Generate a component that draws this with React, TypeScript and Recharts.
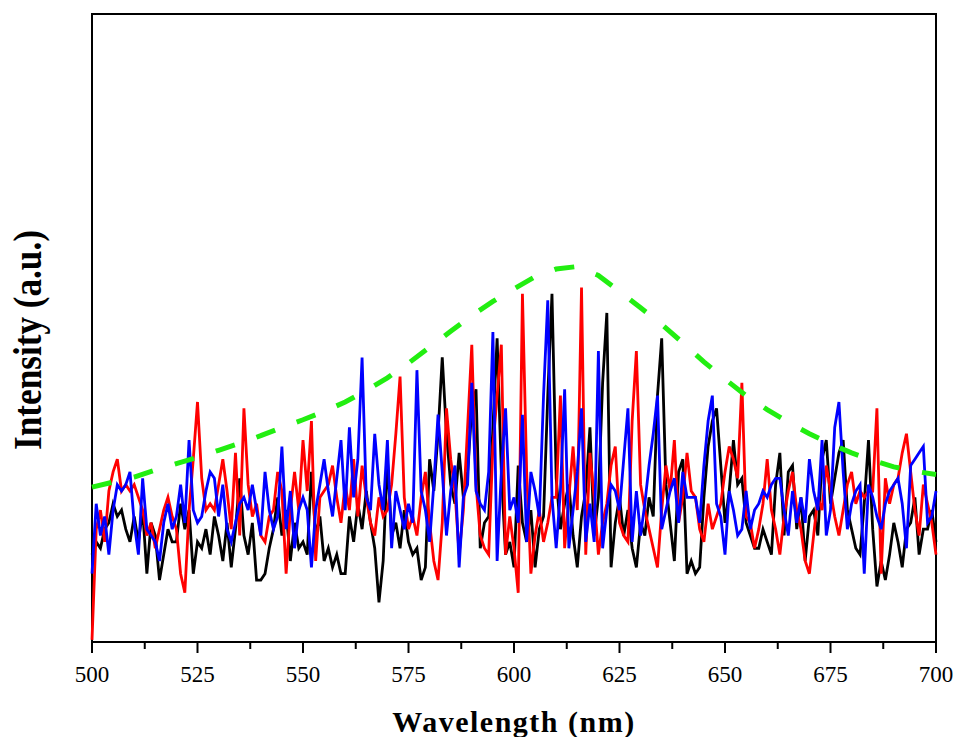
import React from 'react';
import { LineChart, Line, XAxis, YAxis, ReferenceArea } from 'recharts';

// sampled wavelength grid (nm), 1 nm step
const wavelengths: number[] = Array.from({ length: 201 }, (_, i) => 500 + i);

const black: number[] = [
  15, 17, 16, 19, 20, 23, 21, 22, 19, 17,
  21, 17, 22, 12, 20, 18, 11, 15, 19, 17,
  17, 23, 19, 22, 12, 17, 16, 19, 15, 21,
  18, 14, 20, 13, 19, 27, 18, 15, 20, 11,
  11, 12, 16, 19, 24, 18, 22, 14, 20, 16,
  17, 15, 28, 18, 21, 14, 16, 13, 15, 12,
  12, 21, 17, 23, 19, 25, 20, 16, 7.5, 14,
  30, 18, 20, 16, 22, 17, 15, 16, 11, 13,
  30, 25, 34, 46, 34, 26, 23, 31, 24, 28,
  38, 41, 16, 20, 21, 35, 49, 28, 15, 17,
  13, 29, 20, 17, 22, 13, 19, 21, 40, 56,
  27, 19, 23, 26, 18, 13, 21, 25, 35, 18,
  24, 42, 53, 13, 20, 24, 18, 22, 16, 13,
  20, 18, 24, 21, 40, 49, 26, 20, 14, 28,
  30, 12, 14, 12, 13, 24, 32, 36, 38, 29,
  20, 25, 33, 26, 27, 20, 18, 16, 16, 19,
  17, 15, 26, 31, 18, 28, 29, 19, 24, 14,
  21, 22, 18, 30, 33, 23, 27, 31, 33, 22,
  19, 16, 15, 23, 33, 19, 10, 14, 11, 15,
  20, 17, 13, 19, 20, 24, 15, 19, 19, 22, 17,
];

const red: number[] = [
  1.6, 19, 22, 17, 25, 28, 30, 25, 26, 25,
  26, 24, 22, 18, 20, 16, 19, 22, 24, 21,
  19, 12, 9, 22, 30, 39, 27, 22, 23, 22,
  26, 30, 25, 19, 31, 18, 38, 26, 21, 23,
  18, 17, 21, 22, 28, 25, 12, 22, 28, 22,
  33, 25, 36, 14, 24, 25, 26, 29, 24, 20,
  26, 22, 30, 21, 29, 24, 20, 18, 24, 21,
  22, 26, 34, 43, 24, 19, 21, 18, 24, 28,
  20, 14, 11, 20, 38, 30, 25, 15, 22, 35,
  48, 26, 18, 16, 15, 32, 40, 48, 15, 21,
  16, 9, 56, 28, 12, 18, 22, 17, 20, 24,
  24, 40, 16, 24, 32, 22, 57, 15, 31, 24,
  15, 20, 23, 29, 32, 20, 18, 17, 36, 47,
  26, 22, 19, 16, 13, 22, 29, 25, 33, 20,
  24, 31, 25, 24, 19, 17, 23, 19, 21, 23,
  28, 32, 30, 27, 42, 21, 20, 16, 19, 23,
  30, 22, 19, 15, 21, 25, 28, 22, 19, 14,
  12, 18, 24, 22, 29, 25, 21, 18, 22, 26,
  28, 23, 25, 24, 25, 25, 38, 12, 27, 23,
  26, 27, 31, 34, 28, 22, 18, 26, 23, 20, 15,
];

const blue: number[] = [
  12, 23, 18, 21, 15, 22, 26, 25, 26, 28,
  20, 15, 27, 19, 18, 17, 14, 20, 23, 19,
  21, 26, 20, 33, 22, 20, 21, 25, 28, 27,
  21, 26, 19, 17, 20, 23, 24, 22, 26, 22,
  18, 28, 22, 19, 21, 32, 19, 25, 16, 22,
  24, 22, 13, 22, 26, 30, 25, 21, 27, 33,
  22, 35, 24, 30, 46, 24, 22, 34, 26, 22,
  33, 16, 25, 22, 19, 23, 20, 44, 25, 22,
  17, 26, 37, 28, 18, 25, 29, 13, 24, 26,
  42, 25, 23, 22, 28, 50, 14, 28, 38, 22,
  24, 20, 37, 17, 28, 25, 21, 40, 55, 24,
  16, 25, 41, 16, 22, 28, 38, 17, 23, 17,
  47, 16, 22, 26, 25, 22, 30, 38, 17, 25,
  18, 23, 29, 34, 40, 19, 22, 25, 27, 20,
  28, 24, 24, 24, 20, 29, 36, 40, 23, 21,
  15, 25, 22, 18, 19, 25, 19, 22, 23, 25,
  24, 26, 27, 27, 22, 18, 25, 20, 24, 20,
  30, 25, 22, 33, 18, 22, 35, 39, 28, 19,
  23, 25, 26, 12, 26, 24, 21, 19, 23, 25,
  26, 27, 23, 16, 29, 30, 31, 32, 20, 21, 25,
];

const greenWavelengths: number[] = [
  500, 505, 510, 515, 520, 525, 530, 535, 540, 545,
  550, 555, 560, 565, 570, 575, 580, 585, 590, 595,
  600, 605, 610, 615, 620, 625, 630, 635, 640, 645,
  650, 655, 660, 665, 670, 675, 680, 685, 690, 695, 700,
];
const green: number[] = [
  25.6, 26.4, 27.2, 28.3, 29.3, 30.3, 31.4, 32.5, 33.7, 35.0,
  36.2, 37.5, 39.0, 40.8, 42.8, 45.1, 47.6, 50.1, 52.6, 54.8,
  56.8, 58.7, 59.9, 60.3, 58.9, 56.4, 53.8, 51.2, 48.3, 45.3,
  42.6, 40.0, 37.8, 35.8, 34.0, 32.4, 31.0, 29.8, 28.8, 28.1, 27.6,
];

const xTicks: number[] = [
  500, 512.5, 525, 537.5, 550, 562.5, 575, 587.5, 600, 612.5,
  625, 637.5, 650, 662.5, 675, 687.5, 700,
];
const majorStep = 25;
const xDomain: [number, number] = [500, 700];
const yDomain: [number, number] = [1.26, 100];

const rows = wavelengths.map((w, i) => {
  const gi = greenWavelengths.indexOf(w);
  return {
    w,
    black: black[i],
    red: red[i],
    blue: blue[i],
    green: gi >= 0 ? green[gi] : null,
  };
});

const serif = "'Liberation Serif', 'Times New Roman', Times, serif";

const XTick = (props: any) => {
  const { x, y, payload } = props;
  const v = payload.value;
  const major = v % majorStep === 0;
  return (
    <g>
      <line x1={x} x2={x} y1={y} y2={y + (major ? 11 : 7)} stroke="#000" strokeWidth={2} />
      {major && (
        <text x={x} y={y + 40} textAnchor="middle" fontFamily={serif} fontSize={23} fill="#000">
          {v}
        </text>
      )}
    </g>
  );
};

const XTitle = (props: any) => {
  const vb = props.viewBox || { x: 92, width: 844 };
  const cx = vb.x + vb.width / 2;
  return (
    <text
      x={cx}
      y={732}
      textAnchor="middle"
      fontFamily={serif}
      fontWeight="bold"
      fontSize={30}
      letterSpacing={1.5}
      fill="#000"
    >
      Wavelength (nm)
    </text>
  );
};

const YTitle = (props: any) => {
  const vb = props.viewBox || { y: 14, height: 628 };
  const cy = vb.y + vb.height / 2 + 12;
  return (
    <text
      transform={`translate(41,${cy}) rotate(-90) scale(0.88,1)`}
      x={0}
      y={0}
      textAnchor="middle"
      fontFamily={serif}
      fontWeight="bold"
      fontSize={40}
      fill="#000"
    >
      Intensity (a.u.)
    </text>
  );
};

export default function App() {
  return (
    <div style={{ position: 'absolute', left: 0, top: 0, width: 957, height: 737, overflow: 'hidden' }}>
      <LineChart
        width={957}
        height={737}
        data={rows}
        margin={{ top: 14, right: 21, left: 92, bottom: 35 }}
      >
        <XAxis
          dataKey="w"
          type="number"
          domain={xDomain}
          ticks={xTicks}
          allowDecimals
          interval={0}
          height={60}
          tickSize={0}
          tickMargin={0}
          tickLine={false}
          tick={<XTick />}
          axisLine={{ stroke: '#000', strokeWidth: 2 }}
          label={{ content: <XTitle /> }}
        />
        <YAxis hide type="number" domain={yDomain} allowDataOverflow />
        <Line dataKey="black" stroke="#000000" strokeWidth={2.8} dot={false} isAnimationActive={false} />
        <Line dataKey="red" stroke="#ff0000" strokeWidth={2.8} dot={false} isAnimationActive={false} />
        <Line dataKey="blue" stroke="#0000ff" strokeWidth={2.8} dot={false} isAnimationActive={false} />
        <Line
          dataKey="green"
          stroke="#22ee11"
          strokeWidth={5}
          strokeDasharray="20 23"
          dot={false}
          connectNulls
          isAnimationActive={false}
        />
        <ReferenceArea
          x1={xDomain[0]}
          x2={xDomain[1]}
          y1={yDomain[0]}
          y2={yDomain[1]}
          fill="none"
          fillOpacity={0}
          stroke="#000"
          strokeWidth={2}
          ifOverflow="visible"
          label={{ content: <YTitle /> }}
        />
      </LineChart>
    </div>
  );
}
